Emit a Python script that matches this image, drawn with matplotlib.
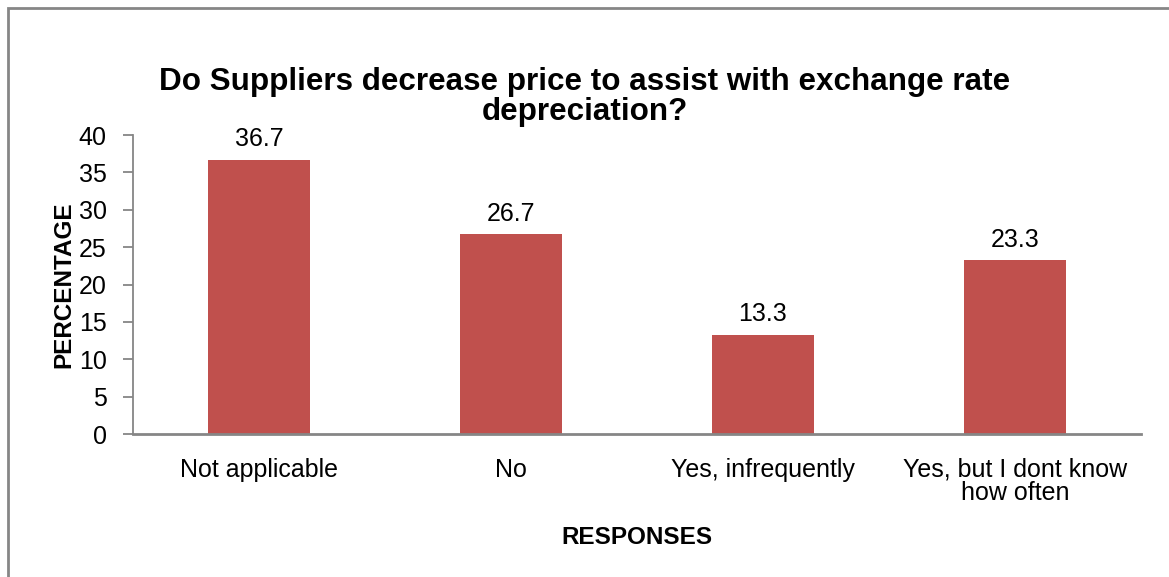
import matplotlib.pyplot as plt
from matplotlib.patches import Rectangle

plt.rcParams['font.family'] = ['Liberation Sans', 'DejaVu Sans']

responses = ["Not applicable", "No", "Yes, infrequently", "Yes, but I dont know\nhow often"]
percentage = [36.7, 26.7, 13.3, 23.3]
yticks = [0, 5, 10, 15, 20, 25, 30, 35, 40]

fig = plt.figure(figsize=(11.69, 5.77), dpi=100)
ax = fig.add_axes([0.1138, 0.2478, 0.8622, 0.5182])

x = range(len(responses))
bars = ax.bar(x, percentage, width=0.405, color="#C0504D")

for b, v in zip(bars, percentage):
    ax.annotate(f"{v}", (b.get_x() + b.get_width() / 2, v),
                xytext=(0, 6), textcoords="offset points",
                ha="center", va="bottom", fontsize=18)

ax.set_xlim(-0.5, len(responses) - 0.5)
ax.set_ylim(0, 40)
ax.set_yticks(yticks)
ax.set_xticks(list(x))
ax.set_xticklabels(responses, fontsize=18, linespacing=0.95)
ax.tick_params(axis="y", labelsize=18, length=7, width=1.3, color="#868686", pad=12)
ax.tick_params(axis="x", length=0, pad=17)

for s in ["top", "right"]:
    ax.spines[s].set_visible(False)
ax.spines["left"].set_color("#868686")
ax.spines["bottom"].set_color("#868686")
ax.spines["left"].set_linewidth(1.3)
ax.spines["bottom"].set_linewidth(2)

ax.set_ylabel("PERCENTAGE", fontsize=17.5, fontweight="bold", labelpad=2)
ax.set_xlabel("RESPONSES", fontsize=17.5, fontweight="bold", labelpad=15)

fig.text(0.5, 1 - 97 / 577, "Do Suppliers decrease price to assist with exchange rate\ndepreciation?",
         ha="center", va="center", fontsize=22.6, fontweight="bold", linespacing=1.0)

# outer chart frame
fig.patches.append(Rectangle((8 / 1169, -0.1), 1.2, (577 - 8) / 577 + 0.1,
                             transform=fig.transFigure, fill=False,
                             edgecolor="#868686", linewidth=2))

fig.savefig("out.png", dpi=100)
